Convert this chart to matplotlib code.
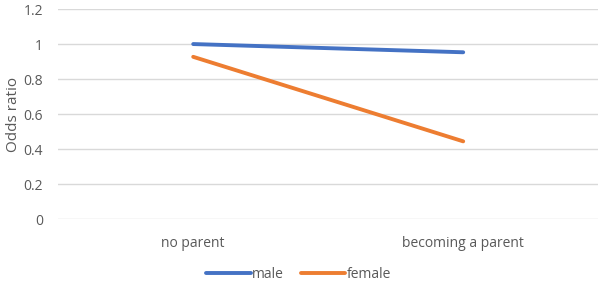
import matplotlib
matplotlib.use("Agg")
import matplotlib.pyplot as plt

categories = ["no parent", "becoming a parent"]
male = [1.0, 0.953]
female = [0.927, 0.444]
yticks = [0, 0.2, 0.4, 0.6, 0.8, 1, 1.2]
ytick_labels = ["0", "0.2", "0.4", "0.6", "0.8", "1", "1.2"]

plt.rcParams['font.family'] = ['Open Sans', 'DejaVu Sans']
grey = "#595959"

fig = plt.figure(figsize=(6, 2.83), dpi=100)
ax = fig.add_axes([0.097, 0.226, 0.9, 0.742])

x = list(range(len(categories)))
ax.plot(x, male, color="#4472C4", lw=2.8, solid_capstyle="round", label="male")
ax.plot(x, female, color="#ED7D31", lw=2.8, solid_capstyle="round", label="female")

ax.set_xlim(-0.5, 1.5)
ax.set_ylim(0, 1.2)
ax.set_yticks(yticks)
ax.set_yticklabels(ytick_labels)
ax.set_xticks(x)
ax.set_xticklabels(categories)
ax.grid(axis="y", color="#d9d9d9", lw=1)
ax.set_axisbelow(True)
for s in ax.spines.values():
    s.set_visible(False)
ax.tick_params(length=0, colors=grey, labelsize=10)
ax.tick_params(axis="y", pad=11)
ax.tick_params(axis="x", pad=12)
ax.set_ylabel("Odds ratio", color=grey, fontsize=11, labelpad=2)

ax.legend(loc="upper center", bbox_to_anchor=(0.445, -0.17), ncol=2, frameon=False,
          fontsize=10, labelcolor=grey, handlelength=3.2, handletextpad=0.1,
          columnspacing=1.2)

fig.savefig("out.png", dpi=100)
